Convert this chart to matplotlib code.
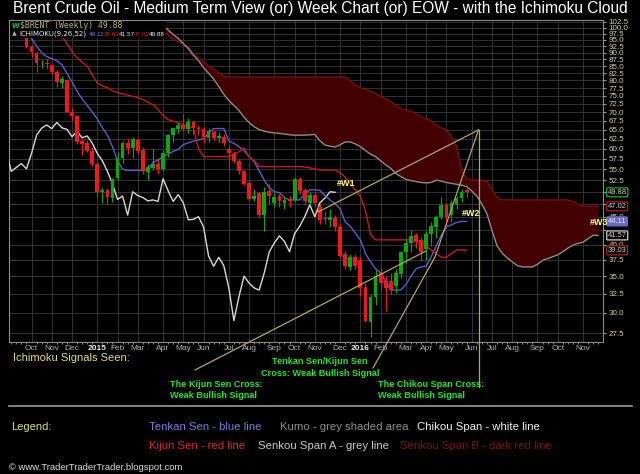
import numpy as np
import pandas as pd
import matplotlib
matplotlib.use("Agg")
import matplotlib.pyplot as plt
import matplotlib.transforms as mtransforms
from matplotlib.lines import Line2D
from matplotlib.patches import Rectangle
from matplotlib.ticker import FixedLocator, NullLocator, FuncFormatter

W, H = 640, 474

# weekly candles, first one is the week starting 2014-09-29
start_week = "2014-09-29"

opens = [95.8, 92.3, 90.0, 86.0, 86.0, 85.3, 83.0, 79.2, 80.2, 70.0,
         69.0, 61.9, 61.4, 59.4, 56.2, 50.0, 50.4, 48.6, 53.0, 57.6,
         61.5, 60.1, 62.3, 59.6, 54.4, 55.3, 56.3, 55.1, 58.8, 63.6,
         65.3, 66.3, 65.3, 67.0, 65.5, 65.2, 62.8, 64.4, 62.8, 63.1,
         59.8, 58.7, 57.0, 54.5, 51.8, 48.5, 49.8, 45.3, 50.2, 47.6,
         49.1, 47.6, 48.4, 48.3, 52.8, 50.4, 47.7, 49.4, 46.9, 44.7,
         44.4, 44.8, 43.1, 38.4, 36.4, 37.9, 37.5, 33.4, 28.8, 32.1,
         35.4, 34.3, 34.3, 33.6, 35.3, 38.7, 40.2, 41.6, 40.7, 39.2,
         41.9, 43.0, 44.9, 47.3, 45.4, 47.3, 48.6, 50.3]
highs = [97.0, 93.0, 90.6, 87.4, 87.5, 85.8, 83.8, 81.5, 80.6, 71.2,
         69.2, 62.6, 62.3, 60.4, 56.6, 50.8, 50.9, 53.1, 59.1, 62.0,
         62.6, 62.9, 62.8, 60.5, 56.2, 59.8, 57.4, 59.6, 63.8, 65.5,
         67.2, 69.4, 68.2, 67.8, 66.2, 65.8, 65.5, 64.8, 64.3, 63.8,
         60.6, 59.3, 57.5, 54.9, 52.5, 50.6, 50.2, 51.0, 51.8, 49.8,
         49.6, 49.0, 49.2, 53.3, 53.2, 50.9, 50.0, 49.9, 47.5, 46.0,
         46.4, 45.3, 43.6, 39.0, 38.5, 38.5, 38.0, 34.0, 32.5, 35.9,
         36.3, 35.0, 35.5, 36.0, 39.0, 41.0, 42.5, 42.0, 41.3, 42.4,
         44.0, 45.4, 48.8, 47.7, 48.2, 49.2, 50.5, 50.8]
lows = [91.6, 88.5, 82.8, 84.2, 84.0, 82.1, 77.9, 77.5, 69.6, 67.5,
        61.3, 58.5, 59.2, 55.8, 49.0, 47.6, 47.4, 47.9, 52.6, 56.5,
        58.6, 57.6, 59.0, 54.0, 52.5, 54.9, 53.8, 54.8, 58.0, 61.8,
        64.0, 64.5, 64.0, 63.8, 63.5, 61.5, 61.8, 62.2, 61.6, 60.6,
        55.0, 56.4, 54.0, 51.4, 48.2, 48.0, 44.8, 42.3, 47.4, 46.8,
        46.9, 46.5, 46.8, 47.9, 49.6, 47.5, 47.2, 47.0, 43.6, 43.6,
        43.1, 42.4, 37.8, 36.0, 35.9, 36.0, 32.2, 28.8, 27.1, 31.0,
        33.0, 30.2, 32.4, 32.6, 34.8, 37.0, 38.8, 39.5, 37.3, 37.5,
        39.8, 41.2, 44.5, 43.3, 44.0, 46.5, 47.8, 48.6]
closes = [92.3, 90.2, 86.2, 86.1, 85.9, 83.0, 79.4, 80.4, 70.1, 69.0,
          61.8, 61.3, 59.3, 56.2, 50.0, 50.3, 48.8, 52.8, 57.7, 61.5,
          60.2, 62.4, 59.4, 54.5, 55.4, 56.3, 55.1, 58.8, 63.5, 65.4,
          66.3, 65.3, 67.0, 65.5, 65.1, 63.1, 64.5, 62.8, 63.3, 61.4,
          58.8, 57.0, 54.5, 51.7, 48.4, 49.1, 45.3, 50.0, 49.2, 48.8,
          48.1, 48.3, 48.0, 52.8, 50.2, 48.0, 49.4, 47.7, 44.4, 44.5,
          45.0, 43.1, 38.1, 36.5, 37.9, 36.6, 33.3, 29.0, 32.1, 35.0,
          34.0, 33.3, 33.0, 35.5, 38.8, 40.3, 41.5, 40.5, 38.8, 41.9,
          43.2, 45.0, 47.3, 45.0, 47.7, 48.7, 50.0, 49.88]

tenkan = [98.0, 95.5, 92.5, 90.0, 88.5, 87.8, 87.0, 85.5, 82.5, 79.5,
          76.5, 74.0, 72.0, 70.0, 68.0, 65.5, 63.5, 60.5, 57.0, 55.0,
          54.7, 54.7, 54.7, 54.7, 55.0, 56.5, 57.2, 58.0, 58.6, 59.3,
          59.8, 61.0, 61.5, 61.9, 62.2, 62.6, 64.0, 65.3, 65.3, 65.3,
          62.0, 61.3, 60.5, 59.5, 58.0, 56.8, 54.6, 52.5, 50.8, 50.0,
          49.8, 48.8, 48.3, 48.3, 48.3, 49.5, 50.4, 50.4, 50.3, 49.2,
          48.3, 47.5, 46.5, 44.0, 43.2, 42.0, 40.8, 38.5, 37.2, 36.1,
          35.5, 34.2, 33.0, 33.0, 33.0, 33.8, 35.0, 36.1, 36.4, 36.5,
          38.0, 39.8, 41.6, 43.1, 43.5, 43.9, 44.1, 44.11]
kijun = [104.0, 104.0, 103.8, 103.8, 103.6, 103.5, 99.5, 96.5, 93.5, 90.5,
         88.0, 86.5, 85.0, 82.0, 79.2, 78.2, 77.6, 76.6, 76.0, 75.6,
         75.2, 74.8, 74.4, 73.8, 73.0, 72.2, 70.8, 69.0, 67.8, 67.4,
         66.9, 66.4, 65.9, 65.5, 60.0, 58.0, 58.0, 58.0, 58.0, 58.0,
         58.0, 58.6, 59.2, 60.1, 58.0, 57.0, 55.6, 55.6, 55.6, 55.6,
         55.6, 55.6, 55.6, 55.6, 55.6, 55.5, 55.3, 55.1, 54.8, 54.8,
         54.8, 54.8, 54.2, 53.2, 51.6, 50.4, 49.0, 46.2, 41.8, 40.8,
         40.8, 40.8, 40.8, 40.8, 40.8, 40.8, 40.8, 40.7, 40.5, 39.7,
         39.1, 38.5, 37.9, 37.9, 38.5, 39.1, 39.1, 39.03]

# cloud lines, plotted 26 weeks ahead; first value sits on week 22
cloud_first = 22
senkou_a = [106.0, 105.5, 105.0, 104.5, 103.0, 101.0, 99.0, 97.2, 95.5, 93.5,
            91.5, 89.0, 87.0, 84.5, 82.5, 80.5, 78.0, 75.5, 73.5, 72.0,
            70.5, 68.5, 67.0, 65.8, 65.0, 64.6, 64.3, 64.1, 64.0, 63.8,
            63.6, 63.5, 63.5, 63.5, 63.6, 63.7, 62.0, 60.9, 60.6, 60.4,
            61.0, 61.7, 61.7, 61.2, 60.5, 59.5, 58.6, 58.0, 57.0, 56.0,
            55.2, 54.0, 53.3, 52.7, 52.4, 52.2, 52.0, 51.9, 52.0, 52.5,
            52.3, 52.0, 51.8, 51.6, 51.4, 51.1, 50.2, 49.1, 47.5, 45.6,
            42.5, 39.8, 38.6, 37.8, 37.2, 36.6, 36.4, 36.4, 36.4, 36.8,
            37.4, 37.7, 38.0, 38.3, 38.8, 39.4, 39.9, 40.2, 40.4, 41.0,
            41.6, 41.57]
senkou_b = [108.0, 107.0, 106.0, 104.0, 101.5, 99.5, 97.0, 95.2, 94.2, 93.2,
            92.2, 89.8, 88.0, 86.5, 85.0, 84.0, 82.6, 81.6, 81.2, 81.2,
            81.2, 81.2, 81.2, 81.2, 81.2, 81.2, 81.2, 81.2, 81.2, 81.2,
            81.2, 81.2, 81.2, 81.2, 81.2, 81.2, 81.2, 81.2, 81.2, 81.2,
            81.2, 81.2, 80.0, 78.5, 77.6, 77.0, 76.4, 75.8, 74.8, 74.0,
            73.3, 72.0, 71.0, 70.6, 70.3, 69.5, 68.7, 68.0, 67.5, 66.2,
            65.5, 64.8, 63.3, 60.5, 55.0, 52.8, 52.6, 52.5, 52.5, 52.3,
            50.5, 48.8, 48.3, 48.3, 48.3, 48.3, 48.3, 48.3, 48.3, 48.3,
            48.3, 48.3, 48.3, 48.3, 48.3, 48.3, 48.0, 47.5, 47.02, 47.02,
            47.02, 47.02]

price_ticks = np.arange(27.5, 102.6, 2.5)
# axis labels hidden behind the value tags
covered_ticks = [50.0, 47.5, 42.5]


def fx(x):
    return x / W


def fy(y):
    return 1 - y / H


def price_label(v, pos):
    if any(abs(v - t) < 0.01 for t in covered_ticks):
        return ""
    return f"{v:.1f}"


fig = plt.figure(figsize=(6.4, 4.74), dpi=100, facecolor="black")
ax = fig.add_axes([fx(9), fy(342), (603 - 9) / W, (342 - 20) / H], facecolor="black")
ax.set_yscale("log")
ax.set_xlim(-3.45, 113.95)
ax.set_ylim(26.5, 103.3)

# week dates -> month gridlines at first week of each month
weeks = pd.date_range(start_week, periods=115, freq="7D")
month_pos, month_lab = [], []
for i in range(1, 114):
    if weeks[i].month != weeks[i - 1].month:
        month_pos.append(i)
        month_lab.append(str(weeks[i].year) if weeks[i].month == 1 else weeks[i].strftime("%b"))

ax.xaxis.set_major_locator(FixedLocator(month_pos))
ax.set_xticklabels(month_lab)
ax.xaxis.set_minor_locator(FixedLocator(np.arange(-3, 114)))
ax.yaxis.set_major_locator(FixedLocator(price_ticks))
ax.yaxis.set_minor_locator(NullLocator())
ax.yaxis.set_major_formatter(FuncFormatter(price_label))
ax.yaxis.tick_right()
ax.grid(True, which="major", color="#333333", lw=0.7)
ax.set_axisbelow(True)
ax.tick_params(axis="x", which="major", length=0, pad=2, labelsize=6, labelcolor="#b0b0b0")
ax.tick_params(axis="x", which="minor", length=1.5, color="#999999")
ax.tick_params(axis="y", which="major", length=2, color="#999999", pad=2,
               labelsize=5.8, labelcolor="#cfcf9a")
for lab in ax.get_xticklabels():
    lab.set_family("Liberation Sans")
    if lab.get_text().isdigit():
        lab.set_color("#e8e8e8")
        lab.set_fontweight("bold")
for lab in ax.get_yticklabels():
    lab.set_family("Liberation Sans")
for sp in ax.spines.values():
    sp.set_color("#8a8a8a")
    sp.set_linewidth(0.8)

# cloud
idx = np.arange(len(closes))
cj = np.arange(cloud_first, cloud_first + len(senkou_a))
ax.fill_between(cj, senkou_a, senkou_b, color="#420000", lw=0, zorder=1)
ax.plot(cj, senkou_b, color="#7a1010", lw=1.0, zorder=2)
ax.plot(cj, senkou_a, color="#8c8c8c", lw=1.0, zorder=2)

# chikou, tenkan, kijun
ax.plot(idx - 26, closes, color="#d8d8d8", lw=1.0, zorder=3)
ax.plot(idx, tenkan, color="#5c5cc8", lw=1.0, zorder=3)
ax.plot(idx, kijun, color="#c81818", lw=1.0, zorder=3)

# candles
o = np.array(opens)
c = np.array(closes)
up = c >= o
col = np.where(up, "#0aa80a", "#f01818")
ax.vlines(idx, lows, highs, colors=col, lw=0.8, zorder=4)
bottom = np.minimum(o, c)
height = np.maximum(np.abs(c - o), 0.25)
ax.bar(idx, height, bottom=bottom, width=0.75, color=col, lw=0, zorder=5)

# value tags on the right axis
tag_tr = mtransforms.blended_transform_factory(ax.transAxes, ax.transData)
tags = [(closes[-1], "#20b020", "black", "#d0d0d0"),
        (senkou_b[-1], "#c01818", "black", "#d0d0d0"),
        (tenkan[-1], "#6a6ac8", "#6a6ac8", "#e8e8e8"),
        (senkou_a[-1], "#d0d0d0", "black", "#d0d0d0"),
        (kijun[-1], "#c01818", "black", "#d0d0d0")]
for val, ec, fc, tc in tags:
    ax.text(1.008, val, f"{val:.2f}", transform=tag_tr, ha="left", va="center",
            fontsize=5.4, color=tc, family="Liberation Sans", zorder=10, clip_on=False,
            bbox=dict(boxstyle="round,pad=0.13", fc=fc, ec=ec, lw=0.9))

# wave labels
for lx, ly, txt in [(346, 183, "#W1"), (471.5, 213.5, "#W2"), (599, 222, "#W3")]:
    fig.text(fx(lx), fy(ly), txt, ha="center", va="center", fontsize=6.5,
             color="#ffff70", fontweight="bold", family="Liberation Sans", zorder=20)

# trend lines drawn on the chart
tl_col = "#b0a85a"
for xs, ys in [([195, 426], [370, 251]),
               ([318, 478.5], [212, 130]),
               ([373, 435, 478.5], [368, 257, 130]),
               ([478.5, 478.5], [130, 387])]:
    fig.add_artist(Line2D([fx(v) for v in xs], [fy(v) for v in ys],
                          color=tl_col, lw=0.9, zorder=15))

# chart legend (top left)
narrow = ["Liberation Sans Narrow", "Liberation Sans"]
fig.add_artist(Rectangle((fx(10), fy(38)), (166 - 10) / W, (38 - 21) / H,
                         transform=fig.transFigure, fc="black", ec="none", zorder=12))
fig.text(fx(12), fy(25.5), "W", color="#20c020", fontsize=5, fontweight="bold",
         va="center", family="DejaVu Sans", zorder=13)
fig.text(fx(20), fy(25.5), f"$BRENT (Weekly) {closes[-1]:.2f}", color="#b4b478",
         fontsize=5.9, va="center", family="DejaVu Sans Mono", zorder=13)
fig.text(fx(11.5), fy(34), "\u25b2", color="#b0b0b0", fontsize=4.5, va="center",
         family="DejaVu Sans", zorder=13)
fig.text(fx(19), fy(34), "ICHIMOKU(9,26,52)", color="#e8e8e8", fontsize=5.0,
         va="center", family="DejaVu Sans", zorder=13)
for lx, val, colr in [(89, tenkan[-1], "#7a7aff"), (104, kijun[-1], "#e02020"),
                      (119, senkou_a[-1], "#e0e0e0"), (134, senkou_b[-1], "#c81e1e"),
                      (149, closes[-1], "#f0f0f0")]:
    fig.text(fx(lx), fy(34), f"{val:.2f}", color=colr, fontsize=4.6, va="center",
             family=narrow, zorder=13)

# title
fig.text(0.5, fy(13.5), "Brent Crude Oil - Medium Term View (or) Week Chart (or) EOW - with the Ichimoku Cloud",
         ha="center", va="baseline", fontsize=11.2, color="white", family="Liberation Sans")

# signal notes
green = "#22e622"
fig.text(fx(13), fy(358), "Ichimoku Signals Seen:", color="#e0dc78", fontsize=8,
         va="center", family=narrow)
fig.text(fx(320), fy(362), "Tenkan Sen/Kijun Sen", color=green, fontsize=6.6,
         fontweight="bold", ha="center", va="center", family=narrow)
fig.text(fx(320), fy(373), "Cross: Weak Bullish Signal", color=green, fontsize=6.6,
         fontweight="bold", ha="center", va="center", family=narrow)
fig.text(fx(170), fy(384.3), "The Kijun Sen Cross:", color=green, fontsize=6.6,
         fontweight="bold", va="center", family=narrow)
fig.text(fx(170), fy(395.7), "Weak Bullish Signal", color=green, fontsize=6.6,
         fontweight="bold", va="center", family=narrow)
fig.text(fx(377.5), fy(384.3), "The Chikou Span Cross:", color=green, fontsize=6.6,
         fontweight="bold", va="center", family=narrow)
fig.text(fx(377.5), fy(395.7), "Weak Bullish Signal", color=green, fontsize=6.6,
         fontweight="bold", va="center", family=narrow)

fig.add_artist(Line2D([fx(9), fx(632)], [fy(406), fy(406)], color="#9a9a9a", lw=1.2))

# colour legend
fig.text(fx(11.5), fy(427), "Legend:", color="#e0dc78", fontsize=8, va="center", family=narrow)
for lx, ly, txt, colr in [(149, 427.3, "Tenkan Sen - blue line", "#7a7ad8"),
                          (279.6, 427.3, "Kumo - grey shaded area", "#8c8c8c"),
                          (417, 427.3, "Chikou Span - white line", "#f0f0f0"),
                          (149, 446, "Kijun Sen - red line", "#e02828"),
                          (258.4, 446, "Senkou Span A - grey line", "#c8c8c8"),
                          (400, 446, "Senkou Span B - dark red line", "#7a1414")]:
    fig.text(fx(lx), fy(ly), txt, color=colr, fontsize=8.2, va="center", family=narrow)

fig.text(fx(9), fy(468), "\u00a9 www.TraderTraderTrader.blogspot.com", color="#dddddd",
         fontsize=6.8, va="center", family=narrow)

fig.savefig("out.png", dpi=100, facecolor="black")
